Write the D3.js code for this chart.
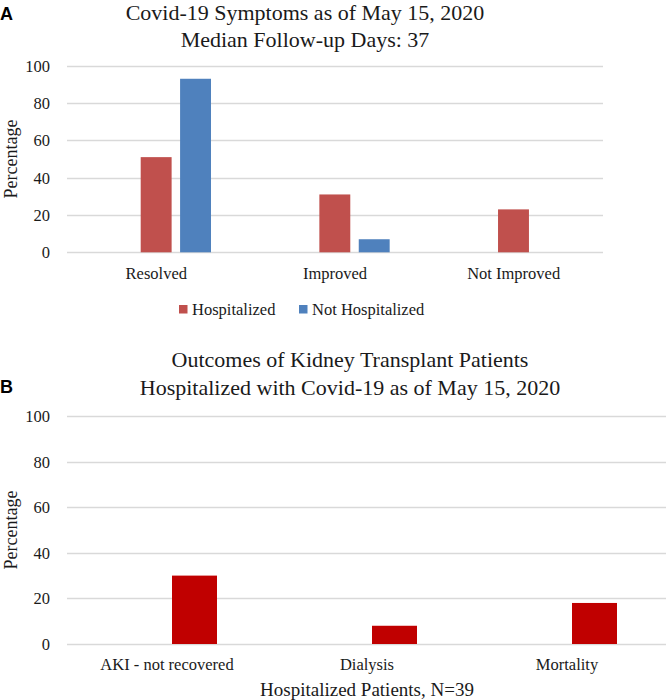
<!DOCTYPE html>
<html>
<head>
<meta charset="utf-8">
<script src="https://cdn.jsdelivr.net/npm/d3@7"></script>
<style>
  html, body { margin: 0; padding: 0; background: #fff; }
  svg { display: block; }
  text { font-family: "Liberation Serif", "Times New Roman", serif; fill: #1a1a1a; }
</style>
</head>
<body>
<script>
// ---------- data ----------
const categoriesA = ["Resolved", "Improved", "Not Improved"];
const seriesA = ["", "Hospitalized", "Not Hospitalized"]; // first slot is an empty series
const hospitalized = [51, 31, 23];
const notHospitalized = [93, 7, 0];
const categoriesB = ["AKI - not recovered", "Dialysis", "Mortality"];
const seriesB = ["", "Hospitalized Patients"];
const outcomesB = [30, 8, 18];
const yTicks = [0, 20, 40, 60, 80, 100];
const titleA = ["Covid-19 Symptoms as of May 15, 2020", "Median Follow-up Days: 37"];
const titleB = ["Outcomes of Kidney Transplant Patients", "Hospitalized with Covid-19 as of May 15, 2020"];
const xTitleB = "Hospitalized Patients, N=39";
const yTitle = "Percentage";

const colorA = { "Hospitalized": "#C0504D", "Not Hospitalized": "#4F81BD" };
const colorB = "#C00000";
const gridColor = "#D9D9D9";

const W = 666, H = 700;
const svg = d3.select("body").append("svg").attr("width", W).attr("height", H);

function drawPanel(cfg) {
  const g = svg.append("g");
  const x = d3.scaleBand().domain(cfg.categories).range([cfg.x0, cfg.x1]).paddingInner(0).paddingOuter(0);
  const y = d3.scaleLinear().domain([0, 100]).range([cfg.y0, cfg.y1]);
  const bw = x.bandwidth();
  const inner = d3.scaleBand().domain(cfg.series)
    .range([bw * cfg.innerStart, bw * cfg.innerEnd]).paddingInner(cfg.innerPad);

  // grid lines
  g.append("g").selectAll("line").data(yTicks).join("line")
    .attr("x1", cfg.x0).attr("x2", cfg.gridEnd)
    .attr("y1", d => Math.round(y(d)) + 0.5).attr("y2", d => Math.round(y(d)) + 0.5)
    .attr("stroke", gridColor).attr("stroke-width", 1.3);

  // y tick labels
  g.append("g").selectAll("text").data(yTicks).join("text")
    .attr("x", 50).attr("y", d => y(d)).attr("dy", "0.36em")
    .attr("text-anchor", "end").style("font-size", "16.5px")
    .text(d => d);

  // bars
  cfg.data.forEach(s => {
    g.append("g").selectAll("rect").data(s.values.map((v, i) => ({ c: cfg.categories[i], v })))
      .join("rect")
      .attr("x", d => x(d.c) + inner(s.name))
      .attr("width", inner.bandwidth())
      .attr("y", d => y(d.v))
      .attr("height", d => y(0) - y(d.v))
      .attr("fill", s.color);
  });

  // category labels
  g.append("g").selectAll("text").data(cfg.categories).join("text")
    .attr("x", d => x(d) + bw / 2).attr("y", cfg.catY)
    .attr("text-anchor", "middle").style("font-size", "16.5px")
    .text(d => d);

  // y title
  g.append("text")
    .attr("transform", `translate(16.5,${(cfg.y0 + cfg.y1) / 2}) rotate(-90)`)
    .attr("text-anchor", "middle").style("font-size", "18px")
    .text(yTitle);

  // chart title
  cfg.title.forEach((t, i) => {
    g.append("text").attr("x", cfg.titleX).attr("y", cfg.titleY + i * cfg.titleGap)
      .attr("text-anchor", "middle").style("font-size", "22px").text(t);
  });

  // panel letter
  svg.append("text").attr("x", 0).attr("y", cfg.letterY)
    .style("font-family", "'Liberation Sans', Arial, sans-serif")
    .style("font-weight", "bold").style("font-size", "18px").style("fill", "#000")
    .text(cfg.letter);
  return { g, x, y };
}

// Panel A
const pA = drawPanel({
  categories: categoriesA, series: seriesA,
  x0: 67, x1: 603, gridEnd: 603, y0: 252.3, y1: 65.7,
  innerStart: 0.192, innerEnd: 0.806, innerPad: 0.215,
  data: [
    { name: "Hospitalized", values: hospitalized, color: colorA["Hospitalized"] },
    { name: "Not Hospitalized", values: notHospitalized, color: colorA["Not Hospitalized"] }
  ],
  catY: 279, title: titleA, titleX: 305, titleY: 20, titleGap: 26.5, letter: "A", letterY: 20
});

// Legend A
const legendItems = [
  { name: "Hospitalized", x: 179 },
  { name: "Not Hospitalized", x: 299 }
];
const lg = svg.append("g");
legendItems.forEach(it => {
  lg.append("rect").attr("x", it.x).attr("y", 305).attr("width", 8.5).attr("height", 8.5)
    .attr("fill", colorA[it.name]);
  lg.append("text").attr("x", it.x + 13).attr("y", 314.5).style("font-size", "16.5px").text(it.name);
});

// Panel B
const pB = drawPanel({
  categories: categoriesB, series: seriesB,
  x0: 67, x1: 667, gridEnd: 666, y0: 644, y1: 416,
  innerStart: 0.275, innerEnd: 0.75, innerPad: 0.1,
  data: [ { name: "Hospitalized Patients", values: outcomesB, color: colorB } ],
  catY: 670, title: titleB, titleX: 350, titleY: 367, titleGap: 28.3, letter: "B", letterY: 393
});

svg.append("text").attr("x", 367).attr("y", 696).attr("text-anchor", "middle")
  .style("font-size", "19px").text(xTitleB);
</script>
</body>
</html>
